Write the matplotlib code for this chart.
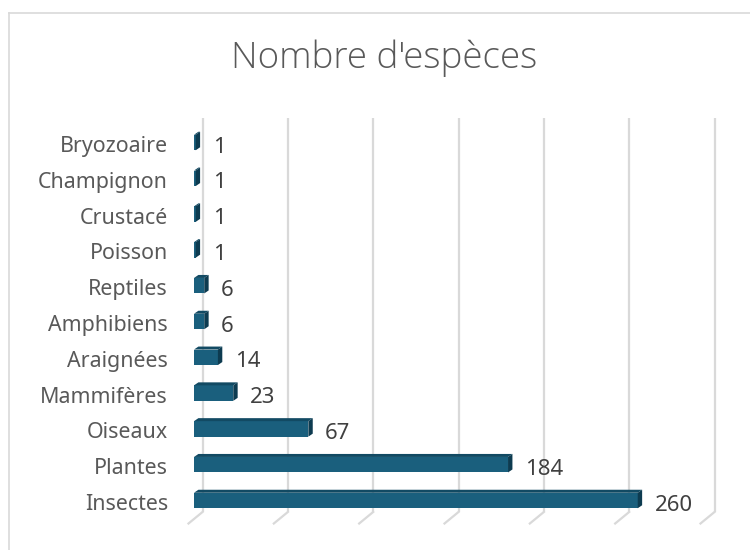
import matplotlib
matplotlib.use("Agg")
import matplotlib.pyplot as plt
from matplotlib.patches import Polygon
from matplotlib.lines import Line2D

categories = ["Insectes", "Plantes", "Oiseaux", "Mammifères", "Araignées",
              "Amphibiens", "Reptiles", "Poisson", "Crustacé", "Champignon", "Bryozoaire"]
values = [260, 184, 67, 23, 14, 6, 6, 1, 1, 1, 1]
title = "Nombre d'espèces"
xticks = [0, 50, 100, 150, 200, 250, 300]

W, H = 750, 550
fig = plt.figure(figsize=(W / 100, H / 100), dpi=100)
fig.patch.set_facecolor("white")

# chart border
fig.add_artist(Line2D([9 / W, 9 / W], [0, 1 - 13 / H], color="#D9D9D9", lw=1.2))
fig.add_artist(Line2D([9 / W, 1], [1 - 13 / H, 1 - 13 / H], color="#D9D9D9", lw=1.2))

# axes geometry in pixels
px_x0, px_x1 = 194, 706
xmin, xmax = 0, 300
y_center0 = 500.5
step = 35.8
ylo, yhi = -0.6, 10.95
px_bottom = y_center0 - ylo * step
px_top = y_center0 - yhi * step
ax = fig.add_axes([px_x0 / W, 1 - px_bottom / H, (px_x1 - px_x0) / W, (px_bottom - px_top) / H])
ax.set_xlim(xmin, xmax)
ax.set_ylim(ylo, yhi)
ax.axis("off")

ux = (px_x1 - px_x0) / (xmax - xmin)  # px per unit
uy = step

# gridlines on the back wall
back_dx = 8.5 / ux
g_top = (y_center0 - 118) / uy
g_bot = (y_center0 - 512) / uy
for t in xticks:
    ax.plot([t + back_dx, t + back_dx], [g_bot, g_top], color="#D9D9D9", lw=1.6,
            clip_on=False, zorder=1, solid_capstyle="butt")
    ax.plot([t + back_dx, t + back_dx - 14 / ux], [g_bot, g_bot - 11.5 / uy],
            color="#D9D9D9", lw=1.6, clip_on=False, zorder=1)

# bars
front = "#1A5F7D"
topc = "#124A63"
side = "#0D3B50"
bh = 15.5 / uy
ddx = 4.4 / ux
ddy = 3.0 / uy
lab_font = ["Noto Sans", "DejaVu Sans"]
ys = list(range(len(categories)))
ax.barh(ys, values, height=bh, color=front, zorder=3, linewidth=0)
for y, v in zip(ys, values):
    top = y + bh / 2
    bot = y - bh / 2
    ax.add_patch(Polygon([(0, top), (v, top), (v + ddx, top + ddy), (ddx, top + ddy)],
                         closed=True, color=topc, lw=0, zorder=3))
    ax.add_patch(Polygon([(v, bot), (v, top), (v + ddx, top + ddy), (v + ddx, bot + ddy)],
                         closed=True, color=side, lw=0, zorder=3))
    ax.annotate(str(v), xy=(v + ddx, y), xytext=(9, -1.5), textcoords="offset points",
                ha="left", va="center_baseline", fontsize=16, color="#404040",
                family=lab_font)
    ax.text(-26 / ux, y - 0.04, categories[y], ha="right", va="center_baseline", fontsize=15.4,
            color="#595959", family=lab_font)

fig.text(384 / W, 1 - 58 / H, title, ha="center", va="center", fontsize=26.5,
         fontweight="light", color="#595959", family=["Open Sans", "DejaVu Sans"])

fig.savefig("out.png", dpi=100)
